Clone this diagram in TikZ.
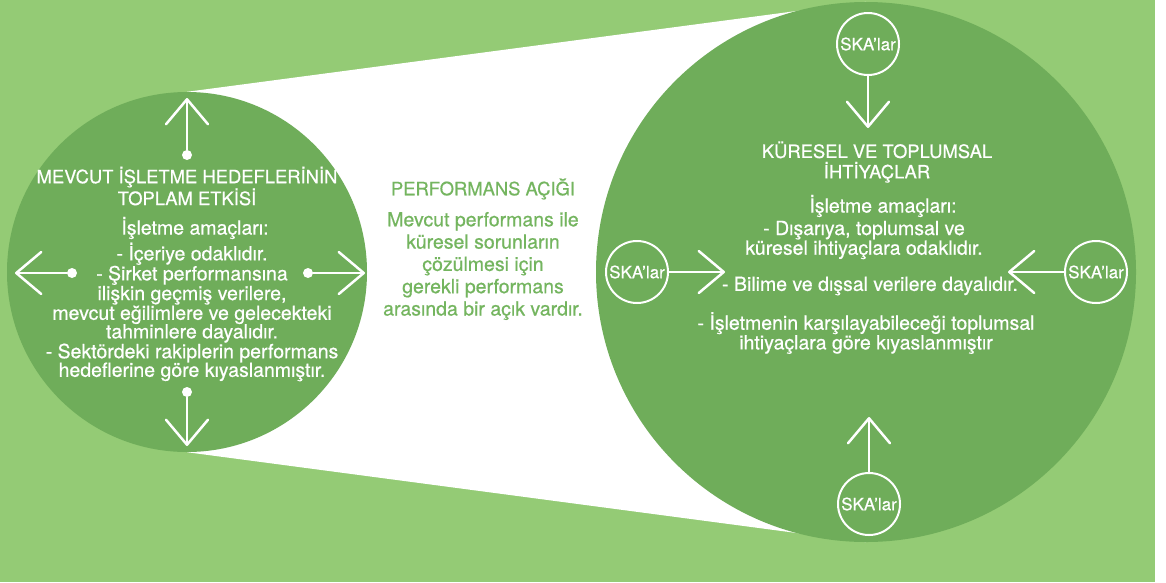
\documentclass[tikz,border=0pt]{standalone}
\usepackage{fontspec}
\setmainfont{TeX Gyre Heros}[UprightFeatures={FakeBold=0.6}]
\usetikzlibrary{arrows.meta, positioning, backgrounds}
\definecolor{clrBg}{HTML}{94CB75}
\definecolor{clrCirc}{HTML}{6FAD5A}
\definecolor{clrGapTxt}{HTML}{74B55F}

\begin{document}
\begin{tikzpicture}[x=1pt, y=-1pt,
  bigcircle/.style={circle, fill=clrCirc, inner sep=0pt},
  head/.style={text=white, align=center, font=\fontsize{18.4}{20.5}\selectfont},
  body/.style={text=white, align=center, font=\fontsize{19.5}{18.6}\selectfont},
  gaptxt/.style={text=clrGapTxt, align=center, font=\fontsize{19.5}{22.3}\selectfont},
  dot/.style={circle, fill=white, inner sep=0pt, minimum size=10pt},
  ska/.style={circle, draw=white, line width=2pt, inner sep=0pt, minimum size=62pt,
              text=white, font=\fontsize{17}{17}\selectfont},
  arr/.style={draw=white, line width=2.5pt, line cap=round,
              -{Straight Barb[length=25pt, width=42pt, round]}}]
  \useasboundingbox (0,0) rectangle (1166,582);

  \node[bigcircle, minimum size=360pt] (lc) at (187,272) {};
  \node[bigcircle, minimum size=540pt] (rc) at (866,272) {};

  \begin{scope}[on background layer]
    \fill[white] (0,0) rectangle (1166,582);
    \fill[clrBg] (0,0) rectangle (1155,582);
    % the gap between the two circles
    \fill[white] (lc.north) -- (rc.north) -- (rc.south) -- (lc.south) -- cycle;
  \end{scope}

  % left circle
  \node[head] (lhead) at (187,186) {MEVCUT İŞLETME HEDEFLERİNİN\\TOPLAM ETKİSİ};
  \node[body] (lsub) at (195,228) {İşletme amaçları:};
  \node[body] (lbody) at (192,312) {- İçeriye odaklıdır.\\- Şirket performansına\\ilişkin geçmiş verilere,\\mevcut eğilimlere ve gelecekteki\\tahminlere dayalıdır.\\- Sektördeki rakiplerin performans\\hedeflerine göre kıyaslanmıştır.};

  \node[dot] (dU) at (187,155) {};
  \node[dot] (dD) at (187,392) {};
  \node[dot] (dL) at (72,273) {};
  \node[dot] (dR) at (308,273) {};
  \coordinate (tU) at (187,98);
  \coordinate (tD) at (187,446);
  \coordinate (tL) at (15,273);
  \coordinate (tR) at (365,273);
  \draw[arr] (dU) -- (tU);
  \draw[arr] (dD) -- (tD);
  \draw[arr] (dL) -- (tL);
  \draw[arr] (dR) -- (tR);

  % gap text
  \node[gaptxt, font=\fontsize{18.4}{20}\selectfont] (gtitle) at (483,189) {PERFORMANS AÇIĞI};
  \node[gaptxt] (gbody) at (483,266) {Mevcut performans ile\\küresel sorunların\\çözülmesi için\\gerekli performans\\arasında bir açık vardır.};

  % right circle
  \node[head] (rhead) at (877,162) {KÜRESEL VE TOPLUMSAL\\İHTİYAÇLAR};
  \node[body] (rsub) at (883,206) {İşletme amaçları:};
  \node[body] (rb1) at (864,240) {- Dışarıya, toplumsal ve\\küresel ihtiyaçlara odaklıdır.};
  \node[body] (rb2) at (870,286) {- Bilime ve dışsal verilere dayalıdır.};
  \node[body] (rb3) at (866,333) {- İşletmenin karşılayabileceği toplumsal\\ihtiyaçlara göre kıyaslanmıştır};

  \node[ska] (skaT) at (868,44) {SKA’lar};
  \node[ska] (skaB) at (869,504) {SKA’lar};
  \node[ska] (skaL) at (637,272) {SKA’lar};
  \node[ska] (skaR) at (1096,272) {SKA’lar};
  \coordinate (sT) at (868,128);
  \coordinate (sB) at (869,417);
  \coordinate (sL) at (725,272);
  \coordinate (sR) at (1008,272);
  \draw[arr] (skaT) -- (sT);
  \draw[arr] (skaB) -- (sB);
  \draw[arr] (skaL) -- (sL);
  \draw[arr] (skaR) -- (sR);
\end{tikzpicture}
\end{document}
